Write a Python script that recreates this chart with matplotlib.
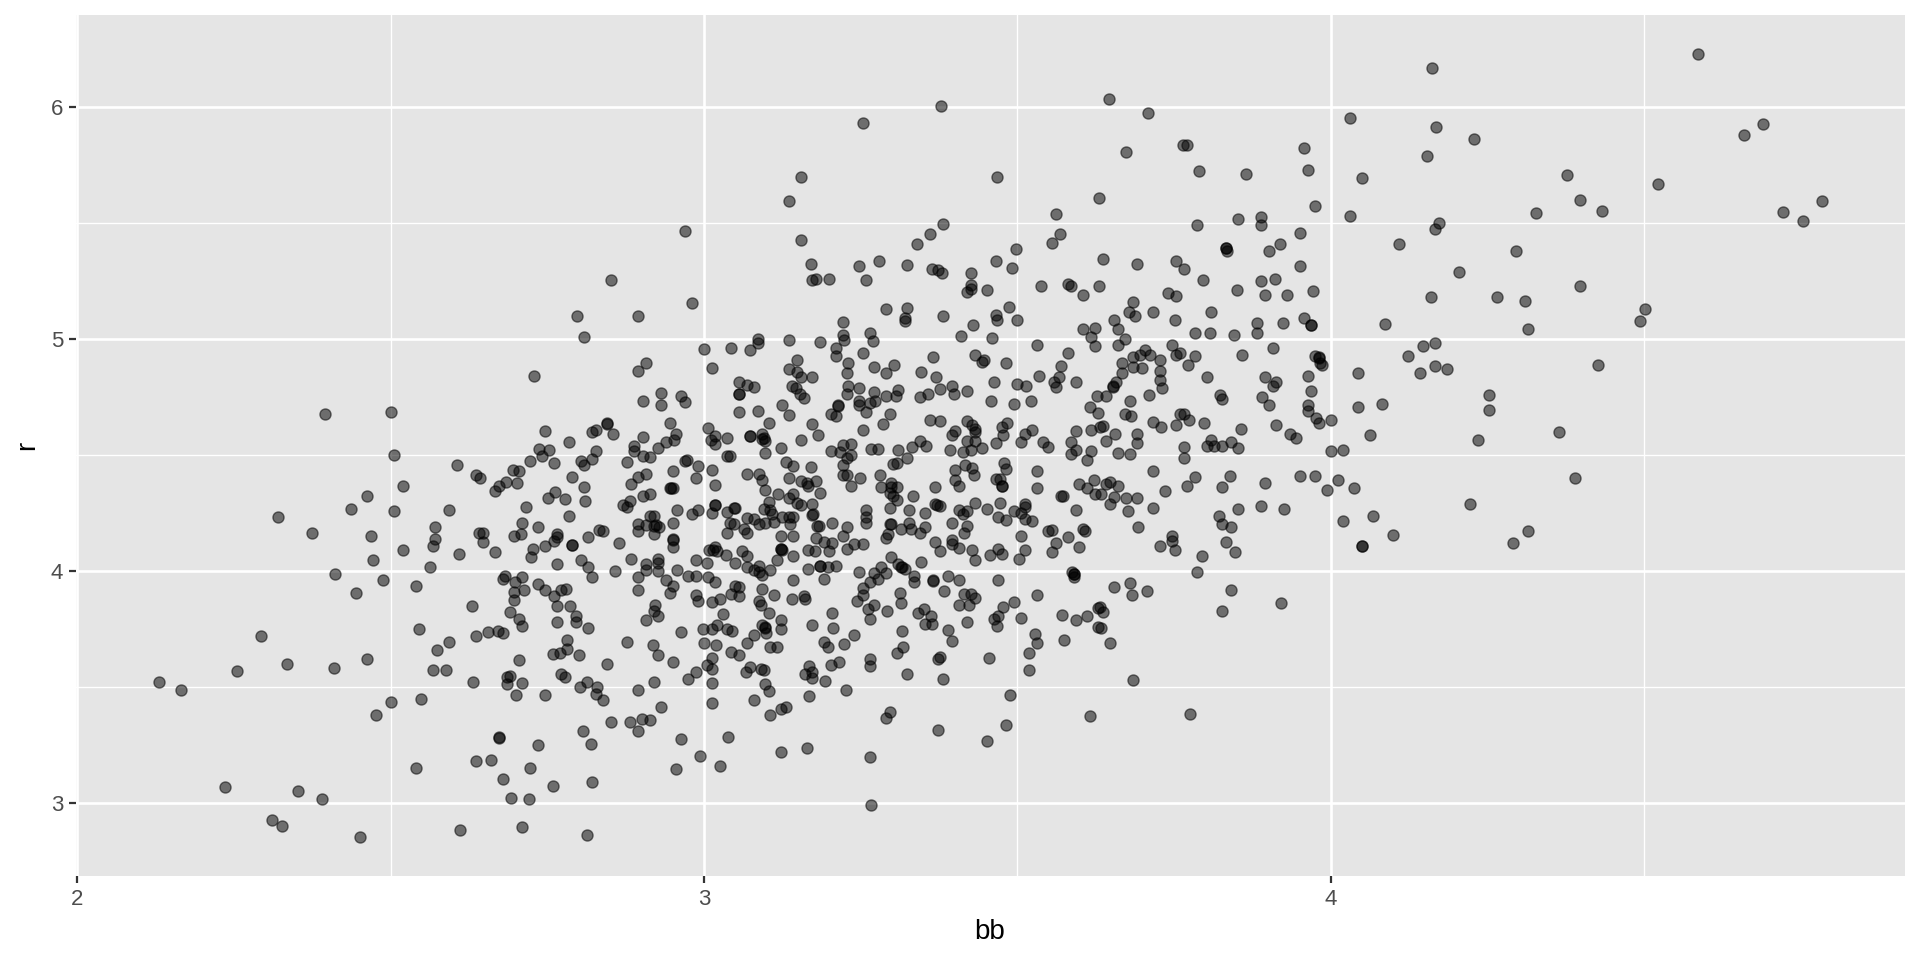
import matplotlib
matplotlib.use("Agg")
import matplotlib.pyplot as plt

# (bb, r) pairs, grouped by where they sit in the plot
low_left = [(2.130,3.524),(2.166,3.490),(2.255,3.570),(2.334,3.599),(2.409,3.585),(2.463,3.622),(2.574,3.659),(2.593,3.697),
    (2.568,3.573),(2.589,3.575),(2.631,3.524),(2.500,3.435),(2.549,3.450),(2.476,3.382),(2.540,3.152),(2.636,3.184),
    (2.235,3.072),(2.352,3.053),(2.390,3.017),(2.310,2.927),(2.326,2.901),(2.451,2.856),(2.611,2.886),(2.293,3.723),(2.321,4.234)]

low_mid = [(2.704,3.616),(2.759,3.642),(2.770,3.647),(2.782,3.665),(2.782,3.704),(2.801,3.641),(2.845,3.599),(2.877,3.694),
    (2.919,3.684),(2.926,3.639),(2.950,3.611),(3.000,3.690),(3.019,3.684),(3.012,3.628),(3.043,3.654),(3.055,3.639),
    (3.068,3.690),(3.105,3.674),(3.117,3.674),(3.191,3.695),(3.197,3.674),(3.224,3.688),(3.265,3.622),(3.265,3.593),
    (3.308,3.647),(3.318,3.675),(3.395,3.701),(3.377,3.629),(3.373,3.621),(3.216,3.611),(3.202,3.595),(3.168,3.593),
    (3.161,3.559),(3.173,3.566),(3.173,3.539),(3.193,3.527),(3.323,3.559),(3.382,3.536),(3.226,3.490),(3.168,3.463),
    (3.005,3.596),(3.012,3.579),(2.987,3.568),(2.975,3.536),(3.012,3.519),(3.012,3.431),(3.074,3.586),(3.067,3.568),
    (3.091,3.580),(3.096,3.576),(3.098,3.513),(3.104,3.486),(3.080,3.444),(3.130,3.415),(3.123,3.407),(3.105,3.382),
    (3.296,3.395),(3.291,3.369),(3.373,3.316),(3.165,3.239),(3.122,3.223),(3.264,3.201),(3.266,2.991),(3.038,3.287),
    (2.963,3.277),(2.994,3.203),(3.026,3.159),(2.956,3.148),(2.931,3.415),(2.913,3.358),(2.901,3.364),(2.882,3.352),
    (2.852,3.352),(2.895,3.313),(2.920,3.522),(2.895,3.490),(2.839,3.444),(2.827,3.473),(2.830,3.503),(2.813,3.522),
    (2.802,3.500),(2.778,3.543),(2.771,3.556),(2.747,3.468),(2.710,3.519),(2.700,3.468),(2.685,3.513),(2.685,3.543),
    (2.691,3.550),(2.807,3.310),(2.820,3.254),(2.735,3.253),(2.673,3.280),(2.673,3.285),(2.660,3.188),(2.722,3.154),
    (2.679,3.103),(2.759,3.073),(2.821,3.092),(2.692,3.024),(2.720,3.017),(2.710,2.899),(2.814,2.864)]

low_right = [(3.454,3.626),(3.519,3.648),(3.519,3.573),(3.531,3.693),(3.574,3.704),(3.648,3.693),(3.685,3.530),(3.488,3.468),
    (3.481,3.339),(3.451,3.267),(3.616,3.376),(3.776,3.384)]

mid_left = [(2.395,4.680),(2.500,4.685),(2.506,4.500),(2.519,4.369),(2.463,4.325),(2.436,4.270),(2.506,4.259),(2.374,4.165),
    (2.469,4.154),(2.519,4.092),(2.472,4.047),(2.411,3.987),(2.488,3.961),(2.445,3.907),(2.540,3.937),(2.546,3.753),
    (2.562,4.017),(2.571,4.193),(2.571,4.141),(2.568,4.111),(2.609,4.073),(2.593,4.264),(2.606,4.458),(2.636,4.414),
    (2.643,4.401),(2.667,4.345),(2.673,4.369),(2.684,4.385),(2.701,4.381),(2.695,4.435),(2.704,4.434),(2.722,4.474),
    (2.736,4.527),(2.741,4.499),(2.753,4.523),(2.760,4.468),(2.747,4.605),(2.784,4.556),(2.803,4.476),(2.809,4.457),
    (2.822,4.484),(2.827,4.519),(2.822,4.601),(2.827,4.611),(2.845,4.639),(2.845,4.634),(2.855,4.592),(2.790,4.407),
    (2.809,4.364),(2.810,4.303),(2.762,4.343),(2.751,4.318),(2.778,4.312),(2.716,4.277),(2.784,4.240),(2.710,4.208),
    (2.735,4.191),(2.697,4.154),(2.708,4.159),(2.641,4.165),(2.648,4.164),(2.648,4.128),(2.667,4.085),(2.727,4.095),
    (2.724,4.060),(2.747,4.111),(2.760,4.129),(2.765,4.159),(2.766,4.148),(2.790,4.115),(2.790,4.113),(2.815,4.148),
    (2.832,4.178),(2.839,4.172),(2.864,4.122),(2.765,4.030),(2.804,4.049),(2.815,4.017),(2.821,3.974),(2.858,4.000),
    (2.883,4.055),(2.870,4.284),(2.877,4.276),(2.882,4.305),(2.883,4.376),(2.895,4.407),(2.907,4.421),(2.877,4.470),
    (2.889,4.539),(2.889,4.517),(2.902,4.499),(2.914,4.493),(2.926,4.530),(2.939,4.556),(2.952,4.568),(2.956,4.592),
    (2.945,4.638),(2.902,4.580),(2.902,4.734),(2.932,4.770),(2.932,4.717),(2.963,4.756),(2.969,4.731),(2.951,4.434),
    (2.969,4.477),(2.973,4.478),(2.991,4.455),(2.987,4.402),(2.902,4.325),(2.914,4.332),(2.945,4.361),(2.948,4.361),
    (2.951,4.359),(2.957,4.264),(2.981,4.247),(2.991,4.266),(2.951,4.208),(2.914,4.237),(2.920,4.240),(2.895,4.204),
    (2.907,4.198),(2.920,4.195),(2.924,4.198),(2.928,4.190),(2.895,4.172),(2.920,4.162),(2.951,4.136),(2.951,4.138),
    (2.951,4.105),(2.926,4.055),(2.926,4.036),(2.907,4.030),(2.907,4.004),(2.926,4.000),(2.987,4.047),(2.957,4.004),
    (2.895,3.974),(2.939,3.961),(2.951,3.935),(2.945,3.907),(2.895,3.918),(2.975,3.980),(2.987,3.980),(2.987,3.897),
    (2.990,3.872),(2.683,3.980),(2.679,3.967),(2.710,3.974),(2.699,3.953),(2.696,3.912),(2.712,3.918),(2.697,3.876),
    (2.735,3.944),(2.747,3.918),(2.760,3.892),(2.771,3.918),(2.780,3.924),(2.630,3.851),(2.691,3.826),(2.704,3.796),
    (2.710,3.763),(2.765,3.851),(2.786,3.851),(2.796,3.806),(2.795,3.782),(2.765,3.782),(2.815,3.757),(2.922,3.853),
    (2.920,3.829),(2.927,3.806),(2.907,3.789),(2.963,3.740),(2.655,3.740),(2.671,3.743),(2.679,3.734),(2.636,3.720)]

mid_center_a = [(3.068,4.803),(3.080,4.796),(3.055,4.763),(3.055,4.765),(3.056,4.685),(3.086,4.691),(3.124,4.716),(3.136,4.674),
    (3.140,4.799),(3.147,4.792),(3.153,4.763),(3.160,4.749),(3.229,4.797),(3.247,4.790),(3.228,4.766),(3.247,4.734),
    (3.247,4.716),(3.271,4.772),(3.273,4.734),(3.265,4.726),(3.290,4.754),(3.309,4.783),(3.307,4.756),(3.345,4.753),
    (3.358,4.766),(3.377,4.784),(3.395,4.797),(3.398,4.763),(3.420,4.777),(3.500,4.806),(3.513,4.800),(3.562,4.796),
    (3.457,4.734),(3.495,4.723),(3.521,4.733),(3.627,4.756),(3.615,4.707),(3.628,4.681),(3.213,4.718),(3.214,4.711),
    (3.203,4.680),(3.210,4.668),(3.259,4.685),(3.296,4.680),(3.286,4.634),(3.253,4.611),(3.173,4.636),(3.181,4.588),
    (3.154,4.568),(3.104,4.639),(3.006,4.616),(3.017,4.582),(3.011,4.566),(3.018,4.549),(3.037,4.575),(3.073,4.583),
    (3.073,4.585),(3.093,4.593),(3.093,4.572),(3.095,4.574),(3.098,4.562),(3.123,4.530),(3.098,4.509),(3.037,4.496),
    (3.041,4.499),(3.360,4.652),(3.377,4.648),(3.420,4.647),(3.427,4.629),(3.432,4.612),(3.432,4.601),(3.401,4.605),
    (3.395,4.586),(3.345,4.563),(3.354,4.540),(3.331,4.534),(3.309,4.524),(3.267,4.527),(3.278,4.527),(3.235,4.550),
    (3.222,4.545),(3.203,4.519),(3.217,4.513),(3.235,4.503),(3.228,4.487),(3.393,4.522),(3.413,4.513),(3.419,4.563),
    (3.432,4.563),(3.426,4.524),(3.444,4.530),(3.465,4.553),(3.475,4.622),(3.484,4.639),(3.477,4.588),(3.506,4.556),
    (3.512,4.593),(3.524,4.611),(3.540,4.556),(3.549,4.536),(3.593,4.605),(3.618,4.611),(3.631,4.622),(3.586,4.556),
    (3.593,4.524),(3.586,4.507),(3.618,4.519),(3.611,4.478),(3.478,4.467),(3.481,4.440),(3.531,4.432),(3.531,4.358),
    (3.465,4.399),(3.472,4.399),(3.475,4.369),(3.475,4.367),(3.598,4.375),(3.611,4.358),(3.622,4.392),(3.624,4.335),
    (3.633,4.335),(3.569,4.326),(3.573,4.326),(3.416,4.460),(3.401,4.438),(3.427,4.445),(3.430,4.417),(3.400,4.395),
    (3.407,4.369),(3.369,4.362),(3.333,4.326),(3.308,4.364),(3.298,4.381),(3.283,4.364),(3.281,4.417),(3.297,4.338),
    (3.302,4.325),(3.308,4.309),(3.298,4.364),(3.249,4.402),(3.235,4.369),(3.222,4.417),(3.228,4.414),(3.222,4.457),
    (3.302,4.464),(3.308,4.468),(3.323,4.490),(3.130,4.471),(3.142,4.455),(3.171,4.451),(3.012,4.438),(3.018,4.371),
    (3.068,4.418),(3.087,4.418),(3.093,4.392),(3.136,4.401),(3.154,4.389),(3.165,4.382),(3.166,4.366),(3.179,4.389),
    (3.185,4.338),(3.098,4.351),(3.118,4.335),(3.142,4.332),(3.136,4.316),(3.148,4.295),(3.154,4.286),(3.172,4.289)]

mid_center_b = [(3.104,4.299),(3.096,4.269),(3.105,4.266),(3.018,4.285),(3.018,4.284),(3.047,4.274),(3.050,4.272),(3.037,4.254),
    (3.012,4.251),(3.108,4.249),(3.174,4.249),(3.173,4.241),(3.125,4.234),(3.136,4.234),(3.142,4.236),(3.068,4.231),
    (3.080,4.226),(3.087,4.205),(3.098,4.208),(3.112,4.213),(3.041,4.210),(3.047,4.203),(3.063,4.181),(3.068,4.165),
    (3.037,4.165),(3.137,4.203),(3.180,4.197),(3.184,4.195),(3.204,4.208),(3.228,4.191),(3.221,4.154),(3.122,4.154),
    (3.142,4.154),(3.179,4.142),(3.191,4.128),(3.204,4.122),(3.240,4.118),(3.253,4.116),(3.228,4.098),(3.166,4.092),
    (3.177,4.089),(3.200,4.086),(3.123,4.095),(3.123,4.097),(3.124,4.093),(3.142,4.068),(3.117,4.047),(3.018,4.105),
    (3.015,4.091),(3.008,4.091),(3.021,4.088),(3.035,4.069),(3.061,4.086),(3.068,4.068),(3.005,4.036),(3.049,4.037),
    (3.069,4.017),(3.087,4.024),(3.080,4.004),(3.087,3.997),(3.093,3.986),(3.105,4.004),(3.166,4.011),(3.185,4.023),
    (3.185,4.022),(3.198,4.019),(3.210,4.023),(3.006,3.976),(3.018,3.955),(3.142,3.961),(3.191,3.967),(3.049,3.935),
    (3.055,3.931),(3.093,3.924),(3.043,3.901),(3.056,3.892),(3.111,3.899),(3.025,3.881),(3.012,3.866),(3.141,3.881),
    (3.160,3.894),(3.161,3.881),(3.087,3.871),(3.091,3.853),(3.104,3.819),(3.031,3.818),(3.122,3.792),(3.173,3.770),
    (3.204,3.819),(3.205,3.756),(3.123,3.753),(3.093,3.770),(3.097,3.760),(3.098,3.757),(3.099,3.734),(3.080,3.724),
    (3.021,3.767),(3.012,3.753),(2.999,3.753),(3.036,3.753),(3.044,3.743),(3.240,3.726),(3.265,3.795),(3.262,3.838),
    (3.271,3.856),(3.244,3.872),(3.253,3.899),(3.253,3.930),(3.265,3.955),(3.271,3.993),(3.278,3.967),(3.247,3.999),
    (3.283,4.017),(3.290,3.993),(3.298,4.062),(3.310,4.033),(3.314,4.019),(3.316,4.017),(3.321,4.011),(3.346,4.042),
    (3.335,3.980),(3.335,3.955),(3.365,3.961),(3.365,3.958),(3.389,3.980),(3.407,3.961),(3.383,3.914),(3.313,3.907),
    (3.314,3.864),(3.292,3.830),(3.341,3.819),(3.351,3.838),(3.362,3.807),(3.353,3.774),(3.364,3.774),(3.316,3.743),
    (3.389,3.746),(3.419,3.782),(3.414,3.901),(3.426,3.901),(3.432,3.885),(3.407,3.856),(3.423,3.856),(3.469,3.961),
    (3.494,3.869),(3.477,3.845),(3.469,3.807),(3.462,3.796),(3.467,3.763),(3.506,3.800),(3.531,3.899),(3.587,3.999),
    (3.591,3.990),(3.591,3.988),(3.590,3.974),(3.571,3.812),(3.593,3.789),(3.611,3.807),(3.628,3.843),(3.528,3.731),
    (3.629,3.760),(3.368,4.128),(3.377,4.086),(3.395,4.136),(3.395,4.118),(3.407,4.101),(3.428,4.092),(3.432,4.050),
    (3.456,4.069),(3.469,4.098),(3.475,4.073),(3.512,4.092),(3.503,4.055),(3.506,4.154),(3.549,4.174),(3.555,4.177),
    (3.562,4.122),(3.580,4.148),(3.555,4.085),(3.598,4.105),(3.605,4.184),(3.607,4.172),(3.395,4.210),(3.414,4.165),
    (3.420,4.197),(3.407,4.263),(3.413,4.249),(3.420,4.260),(3.432,4.295),(3.451,4.270),(3.472,4.296),(3.469,4.236),
    (3.481,4.221),(3.494,4.259),(3.506,4.251),(3.512,4.292),(3.512,4.276),(3.512,4.227),(3.524,4.216),(3.593,4.264),
    (3.368,4.292),(3.372,4.287),(3.377,4.283),(3.352,4.253),(3.327,4.264),(3.296,4.272),(3.327,4.210),(3.330,4.184),
    (3.314,4.184),(3.352,4.191),(3.345,4.165),(3.297,4.203),(3.298,4.205),(3.294,4.162),(3.291,4.142),(3.259,4.266),
    (3.259,4.234),(3.259,4.208)]

mid_right = [(3.652,4.797),(3.652,4.795),(3.641,4.754),(3.679,4.734),(3.710,4.760),(3.731,4.792),(3.823,4.761),(3.827,4.741),
    (3.890,4.750),(3.907,4.797),(3.969,4.779),(3.902,4.716),(3.963,4.716),(3.963,4.691),(3.976,4.662),(3.981,4.641),
    (4.000,4.654),(4.044,4.708),(4.081,4.721),(4.252,4.762),(4.253,4.695),(4.235,4.568),(4.062,4.586),(3.672,4.680),
    (3.681,4.670),(3.759,4.680),(3.765,4.680),(3.774,4.652),(3.798,4.641),(3.716,4.642),(3.729,4.622),(3.753,4.629),
    (3.636,4.625),(3.656,4.591),(3.641,4.562),(3.691,4.593),(3.691,4.555),(3.661,4.511),(3.680,4.504),(3.765,4.537),
    (3.765,4.487),(3.809,4.568),(3.803,4.539),(3.814,4.539),(3.827,4.542),(3.840,4.556),(3.852,4.530),(3.856,4.612),
    (3.913,4.629),(3.935,4.592),(3.945,4.573),(4.000,4.519),(4.019,4.524),(3.716,4.432),(3.784,4.407),(3.771,4.369),
    (3.839,4.412),(3.827,4.364),(3.895,4.382),(3.735,4.345),(3.950,4.409),(3.975,4.409),(4.012,4.395),(3.994,4.352),
    (4.037,4.358),(4.222,4.289),(4.068,4.240),(4.019,4.216),(4.099,4.155),(4.049,4.111),(4.049,4.110),(3.926,4.269),
    (3.889,4.283),(3.852,4.270),(3.821,4.240),(3.827,4.203),(3.840,4.190),(3.833,4.128),(3.847,4.085),(3.795,4.068),
    (3.747,4.152),(3.747,4.129),(3.728,4.109),(3.752,4.092),(3.786,3.999),(3.716,4.272),(3.677,4.260),(3.691,4.315),
    (3.673,4.315),(3.654,4.320),(3.648,4.289),(3.693,4.190),(3.641,4.378),(3.648,4.384),(3.660,4.369),(3.654,3.932),
    (3.679,3.950),(3.683,3.899),(3.706,3.917),(3.840,3.920),(3.826,3.830),(3.920,3.862),(3.636,3.825),(3.632,3.846),
    (3.634,3.757)]

far_right = [(4.501,5.131),(4.494,5.080),(4.315,5.045),(4.166,4.983),(4.166,4.884),(4.186,4.872),(4.142,4.853),(4.426,4.891),
    (4.364,4.599),(4.389,4.402),(4.315,4.172),(4.290,4.124),(4.161,6.168),(4.586,6.228),(4.168,5.914),(4.228,5.865),
    (4.154,5.790),(4.377,5.710),(4.659,5.882),(4.690,5.928),(4.522,5.670),(4.722,5.549),(4.753,5.511),(4.783,5.598),
    (4.398,5.601),(4.432,5.555),(4.327,5.543),(4.173,5.500),(4.166,5.474),(4.108,5.411),(4.296,5.379),(4.204,5.289),
    (4.398,5.231),(4.160,5.184),(4.265,5.184),(4.310,5.166)]

upper_right = [(4.030,5.953),(3.673,5.806),(3.764,5.836),(3.771,5.836),(3.957,5.825),(3.963,5.730),(3.790,5.726),(3.864,5.713),
    (4.049,5.695),(3.630,5.608),(3.562,5.539),(3.975,5.573),(4.031,5.533),(3.786,5.491),(3.852,5.520),(3.889,5.526),
    (3.889,5.494),(3.568,5.453),(3.555,5.415),(3.951,5.458),(3.919,5.411),(3.901,5.379),(3.833,5.395),(3.833,5.393),
    (3.834,5.381),(3.497,5.388),(3.491,5.309),(3.636,5.348),(3.691,5.323),(3.753,5.336),(3.765,5.305),(3.951,5.318),
    (3.796,5.254),(3.537,5.230),(3.580,5.237),(3.586,5.230),(3.604,5.190),(3.630,5.230),(3.740,5.198),(3.753,5.187),
    (3.685,5.162),(3.851,5.213),(3.889,5.250),(3.911,5.261),(3.895,5.193),(3.930,5.190),(3.972,5.208),(3.678,5.119),
    (3.687,5.099),(3.716,5.119),(3.809,5.119),(3.752,5.082),(3.486,5.141),(3.500,5.082),(3.654,5.082),(3.660,5.045),
    (3.623,5.050),(3.605,5.043),(3.617,5.011),(3.672,5.001),(3.661,4.976),(3.623,4.971),(3.784,5.026),(3.807,5.026),
    (3.846,5.020),(3.882,5.026),(3.882,5.070),(3.923,5.072),(3.957,5.093),(3.969,5.062),(3.969,5.060),(4.087,5.065),
    (3.531,4.977),(3.580,4.940),(3.570,4.885),(3.481,4.897),(3.535,4.842),(3.567,4.839),(3.559,4.818),(3.594,4.818),
    (3.657,4.818),(3.666,4.853),(3.666,4.897),(3.685,4.925),(3.685,4.882),(3.698,4.878),(3.696,4.934),(3.703,4.954),
    (3.711,4.932),(3.728,4.911),(3.728,4.865),(3.747,4.977),(3.753,4.932),(3.760,4.940),(3.784,4.927),(3.772,4.889),
    (3.803,4.836),(3.858,4.932),(3.907,4.964),(3.895,4.836),(3.913,4.818),(3.963,4.841),(3.975,4.927),(3.981,4.922),
    (3.981,4.920),(3.982,4.897),(3.986,4.889),(4.043,4.853),(4.123,4.927),(4.147,4.971),(3.728,4.825)]

upper_left = [(3.253,5.932),(3.154,5.700),(3.136,5.595),(2.969,5.468),(3.154,5.428),(3.382,5.496),(3.361,5.454),(3.339,5.409),
    (3.468,5.700),(2.852,5.254),(2.981,5.157),(2.797,5.101),(2.895,5.101),(2.809,5.009),(3.170,5.323),(3.172,5.256),
    (3.178,5.259),(3.200,5.259),(3.247,5.318),(3.279,5.338),(3.259,5.254),(3.323,5.319),(3.364,5.305),(3.373,5.297),
    (3.380,5.284),(3.426,5.286),(3.426,5.234),(3.426,5.217),(3.419,5.204),(3.451,5.211),(3.290,5.132),(3.324,5.134),
    (3.321,5.092),(3.321,5.080),(3.382,5.101),(3.466,5.105),(3.468,5.083),(3.429,5.063),(3.410,5.014),(3.460,5.007),
    (3.222,5.076),(3.222,5.019),(3.224,4.996),(3.265,5.027),(3.269,4.994),(3.136,4.996),(3.185,4.990),(3.210,4.964),
    (3.210,4.927),(3.253,4.940),(3.086,5.001),(3.086,4.983),(3.074,4.953),(3.043,4.964),(3.000,4.958),(3.012,4.878),
    (2.907,4.897),(2.895,4.865),(2.728,4.842),(3.148,4.909),(3.136,4.872),(3.148,4.861),(3.154,4.836),(3.173,4.836),
    (3.230,4.898),(3.228,4.853),(3.271,4.882),(3.303,4.889),(3.290,4.853),(3.346,4.859),(3.365,4.924),(3.370,4.836),
    (3.432,4.932),(3.447,4.911),(3.444,4.902),(3.463,4.818),(3.466,5.338),(3.055,4.818)]

top_extra = [(3.378,6.005),(3.646,6.035),(3.709,5.975)]

x_major = [2, 3, 4]
y_major = [3, 4, 5, 6]
x_minor = [2.5, 3.5, 4.5]
y_minor = [3.5, 4.5, 5.5]

points = low_left + low_mid + low_right + mid_left + mid_center_a + mid_center_b + mid_right + far_right + upper_right + upper_left + top_extra
bb = [p[0] for p in points]
r = [p[1] for p in points]

plt.rcParams['font.family'] = ['Liberation Sans', 'DejaVu Sans']

fig = plt.figure(figsize=(9.6, 4.8), dpi=200)
ax = fig.add_axes([76 / 1920, 1 - 876 / 960, (1905 - 76) / 1920, (876 - 15) / 960])
ax.set_facecolor('#E5E5E5')
ax.set_xlim(1.998, 4.916)
ax.set_ylim(2.687, 6.398)

ax.set_axisbelow(True)
ax.set_xticks(x_major)
ax.set_yticks(y_major)
ax.set_xticks(x_minor, minor=True)
ax.set_yticks(y_minor, minor=True)
ax.grid(which='major', color='white', linewidth=0.95)
ax.grid(which='minor', color='white', linewidth=0.48)
ax.tick_params(which='major', length=2.6, width=0.8, color='#333333', labelcolor='#4D4D4D', labelsize=8, pad=2)
ax.tick_params(which='minor', length=0)
for s in ax.spines.values():
    s.set_visible(False)

ax.scatter(bb, r, s=16, c='black', alpha=0.52, linewidths=0.5, edgecolors='black', zorder=3)

fig.text(990 / 1920, 1 - 932 / 960, 'bb', fontsize=10, color='black', ha='center', va='center')
fig.text(27 / 1920, 1 - 445 / 960, 'r', fontsize=10, color='black', ha='center', va='center', rotation=90)

fig.savefig('out.png', dpi=200)
